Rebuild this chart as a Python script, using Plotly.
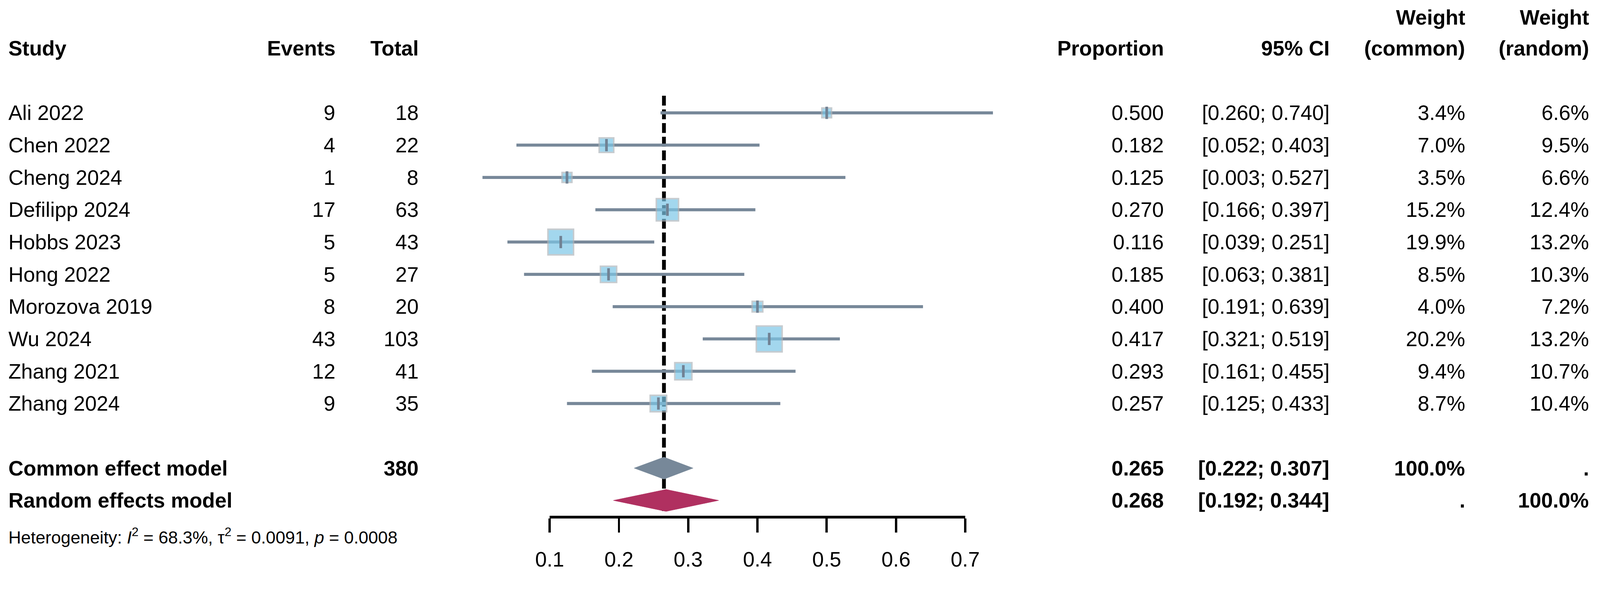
import plotly.graph_objects as go
import numpy as np

# ---------------- data ----------------
studies = ["Ali 2022", "Chen 2022", "Cheng 2024", "Defilipp 2024", "Hobbs 2023",
           "Hong 2022", "Morozova 2019", "Wu 2024", "Zhang 2021", "Zhang 2024"]
events = [9, 4, 1, 17, 5, 5, 8, 43, 12, 9]
totals = [18, 22, 8, 63, 43, 27, 20, 103, 41, 35]
proportion = [0.500, 0.182, 0.125, 0.270, 0.116, 0.185, 0.400, 0.417, 0.293, 0.257]
ci_lower = [0.260, 0.052, 0.003, 0.166, 0.039, 0.063, 0.191, 0.321, 0.161, 0.125]
ci_upper = [0.740, 0.403, 0.527, 0.397, 0.251, 0.381, 0.639, 0.519, 0.455, 0.433]
weight_common = [3.4, 7.0, 3.5, 15.2, 19.9, 8.5, 4.0, 20.2, 9.4, 8.7]
weight_random = [6.6, 9.5, 6.6, 12.4, 13.2, 10.3, 7.2, 13.2, 10.7, 10.4]

common_total = 380
common_est, common_lo, common_hi = 0.265, 0.222, 0.307
random_est, random_lo, random_hi = 0.268, 0.192, 0.344
het_I2, het_tau2, het_p = "68.3%", "0.0091", "0.0008"

axis_ticks = [0.1, 0.2, 0.3, 0.4, 0.5, 0.6, 0.7]

# ---------------- layout constants ----------------
W, H = 4212, 1510
FONT = "Liberation Sans, Arial, sans-serif"
FS = 55
FS_HET = 46
ROW0_PX = 297.0      # pixel y of first study row
ROW_H = 85.0         # pixel height per row
AX_L_PX, AX_R_PX = 1447.0, 2541.0
AX_LINE_PX = 1361.0

ppu = (AX_R_PX - AX_L_PX) / (axis_ticks[-1] - axis_ticks[0])
x_lo = axis_ticks[0] - AX_L_PX / ppu
x_hi = axis_ticks[0] + (W - AX_L_PX) / ppu
y_top = ROW0_PX / ROW_H
y_bot = -(H - ROW0_PX) / ROW_H

n = len(studies)
rows = [-i for i in range(n)]
row_common = -(n + 1)
row_random = -(n + 2)
row_het = -(n + 3.1)
row_head = 2
row_head_top = 2.95

line_col = "#778899"
sq_fill = "#7DC7E7"
sq_border = "#AEB6BC"
inner_col = "#718294"
common_col = "#778899"
random_col = "#B03060"

fig = go.Figure()

# reference (common effect) dashed line
fig.add_trace(go.Scatter(
    x=[common_est, common_est], y=[0.53, row_random - 0.33],
    mode="lines", line=dict(color="black", width=10, dash="26px,10px"),
    hoverinfo="skip"))

# CI lines
for i in range(n):
    fig.add_trace(go.Scatter(
        x=[ci_lower[i], ci_upper[i]], y=[rows[i], rows[i]],
        mode="lines", line=dict(color=line_col, width=8),
        hoverinfo="skip"))

# squares (side proportional to sqrt(weight))
sizes = [16.0 * np.sqrt(w) - 4 for w in weight_common]
fig.add_trace(go.Scatter(
    x=proportion, y=rows, mode="markers",
    marker=dict(symbol="square", size=sizes, color=sq_fill,
                line=dict(color=sq_border, width=4)),
    hoverinfo="skip"))
# inner estimate tick
fig.add_trace(go.Scatter(
    x=proportion, y=rows, mode="markers",
    marker=dict(symbol="line-ns-open", size=23, color=inner_col,
                line=dict(color=inner_col, width=7)),
    hoverinfo="skip"))

# diamonds
dh = 0.34
for est, lo, hi, r, col in [(common_est, common_lo, common_hi, row_common, common_col),
                            (random_est, random_lo, random_hi, row_random, random_col)]:
    fig.add_trace(go.Scatter(
        x=[lo, est, hi, est, lo], y=[r, r + dh, r, r - dh, r],
        mode="lines", fill="toself", fillcolor=col,
        line=dict(color=col, width=1), hoverinfo="skip"))

# invisible trace so the axis subplot is drawn
fig.add_trace(go.Scatter(
    x=axis_ticks, y=[0.5] * len(axis_ticks), xaxis="x2", yaxis="y2",
    mode="markers", marker=dict(opacity=0), hoverinfo="skip"))

# ---------------- text columns ----------------
def px(xp):
    return xp / W

def txt(x_px, y, s, anchor="right", bold=False, size=FS):
    fig.add_annotation(
        x=px(x_px), y=y, xref="paper", yref="y", text=(f"<b>{s}</b>" if bold else s),
        showarrow=False, xanchor=anchor, yanchor="middle", borderpad=0, borderwidth=0,
        font=dict(family=FONT, size=size, color="black"))

COL_STUDY = 22
COL_EVENTS = 883
COL_TOTAL = 1102
COL_PROP = 3064
COL_CI = 3500
COL_WC = 3857
COL_WR = 4183

# headers
txt(COL_STUDY, row_head, "Study", "left", True)
txt(COL_EVENTS, row_head, "Events", bold=True)
txt(COL_TOTAL, row_head, "Total", bold=True)
txt(COL_PROP, row_head, "Proportion", bold=True)
txt(COL_CI, row_head, "95% CI", bold=True)
txt(COL_WC, row_head_top, "Weight", bold=True)
txt(COL_WC, row_head, "(common)", bold=True)
txt(COL_WR, row_head_top, "Weight", bold=True)
txt(COL_WR, row_head, "(random)", bold=True)

for i in range(n):
    r = rows[i]
    txt(COL_STUDY, r, studies[i], "left")
    txt(COL_EVENTS, r, str(events[i]))
    txt(COL_TOTAL, r, str(totals[i]))
    txt(COL_PROP, r, f"{proportion[i]:.3f}")
    txt(COL_CI, r, f"[{ci_lower[i]:.3f}; {ci_upper[i]:.3f}]")
    txt(COL_WC, r, f"{weight_common[i]:.1f}%")
    txt(COL_WR, r, f"{weight_random[i]:.1f}%")

txt(COL_STUDY, row_common, "Common effect model", "left", True)
txt(COL_TOTAL, row_common, str(common_total), bold=True)
txt(COL_PROP, row_common, f"{common_est:.3f}", bold=True)
txt(COL_CI, row_common, f"[{common_lo:.3f}; {common_hi:.3f}]", bold=True)
txt(COL_WC, row_common, "100.0%", bold=True)
txt(COL_WR, row_common, ".", bold=True)

txt(COL_STUDY, row_random, "Random effects model", "left", True)
txt(COL_PROP, row_random, f"{random_est:.3f}", bold=True)
txt(COL_CI, row_random, f"[{random_lo:.3f}; {random_hi:.3f}]", bold=True)
txt(COL_WC, row_random, ".", bold=True)
txt(COL_WR, row_random, "100.0%", bold=True)

txt(COL_STUDY, row_het,
    f"Heterogeneity: <i>I</i><sup>2</sup> = {het_I2}, τ<sup>2</sup> = {het_tau2}, <i>p</i> = {het_p}",
    "left", False, FS_HET)

# ---------------- axes ----------------
fig.update_layout(
    width=W, height=H, margin=dict(l=0, r=0, t=0, b=0, pad=0, autoexpand=False),
    paper_bgcolor="white", plot_bgcolor="rgba(0,0,0,0)", showlegend=False,
    xaxis=dict(domain=[0, 1], range=[x_lo, x_hi], visible=False),
    yaxis=dict(domain=[0, 1], range=[y_bot, y_top], visible=False),
    xaxis2=dict(domain=[AX_L_PX / W, AX_R_PX / W], range=[axis_ticks[0], axis_ticks[-1]],
                anchor="y2", tickvals=axis_ticks, ticktext=[f"{t:.1f}" for t in axis_ticks],
                showline=True, linewidth=8, linecolor="black", ticks="outside",
                ticklen=37, tickwidth=6, tickcolor="black", showgrid=False, zeroline=False,
                tickfont=dict(family=FONT, size=FS, color="black"), ticklabelstandoff=23,
                automargin=False),
    yaxis2=dict(domain=[1 - (AX_LINE_PX - 4) / H, 1], range=[0, 1], visible=False,
                anchor="x2"),
)

# fit the page to the browser viewport (no body margin / scrollbars)
post = """
var gd = document.getElementById('{plot_id}');
document.documentElement.style.margin = '0';
document.documentElement.style.overflow = 'hidden';
document.body.style.margin = '0';
document.body.style.overflow = 'hidden';
var s = window.innerWidth / %d;
gd.style.transformOrigin = '0 0';
gd.style.transform = 'scale(' + s + ')';
""" % W

fig.write_html("out.html", post_script=post, config={"displayModeBar": False})
